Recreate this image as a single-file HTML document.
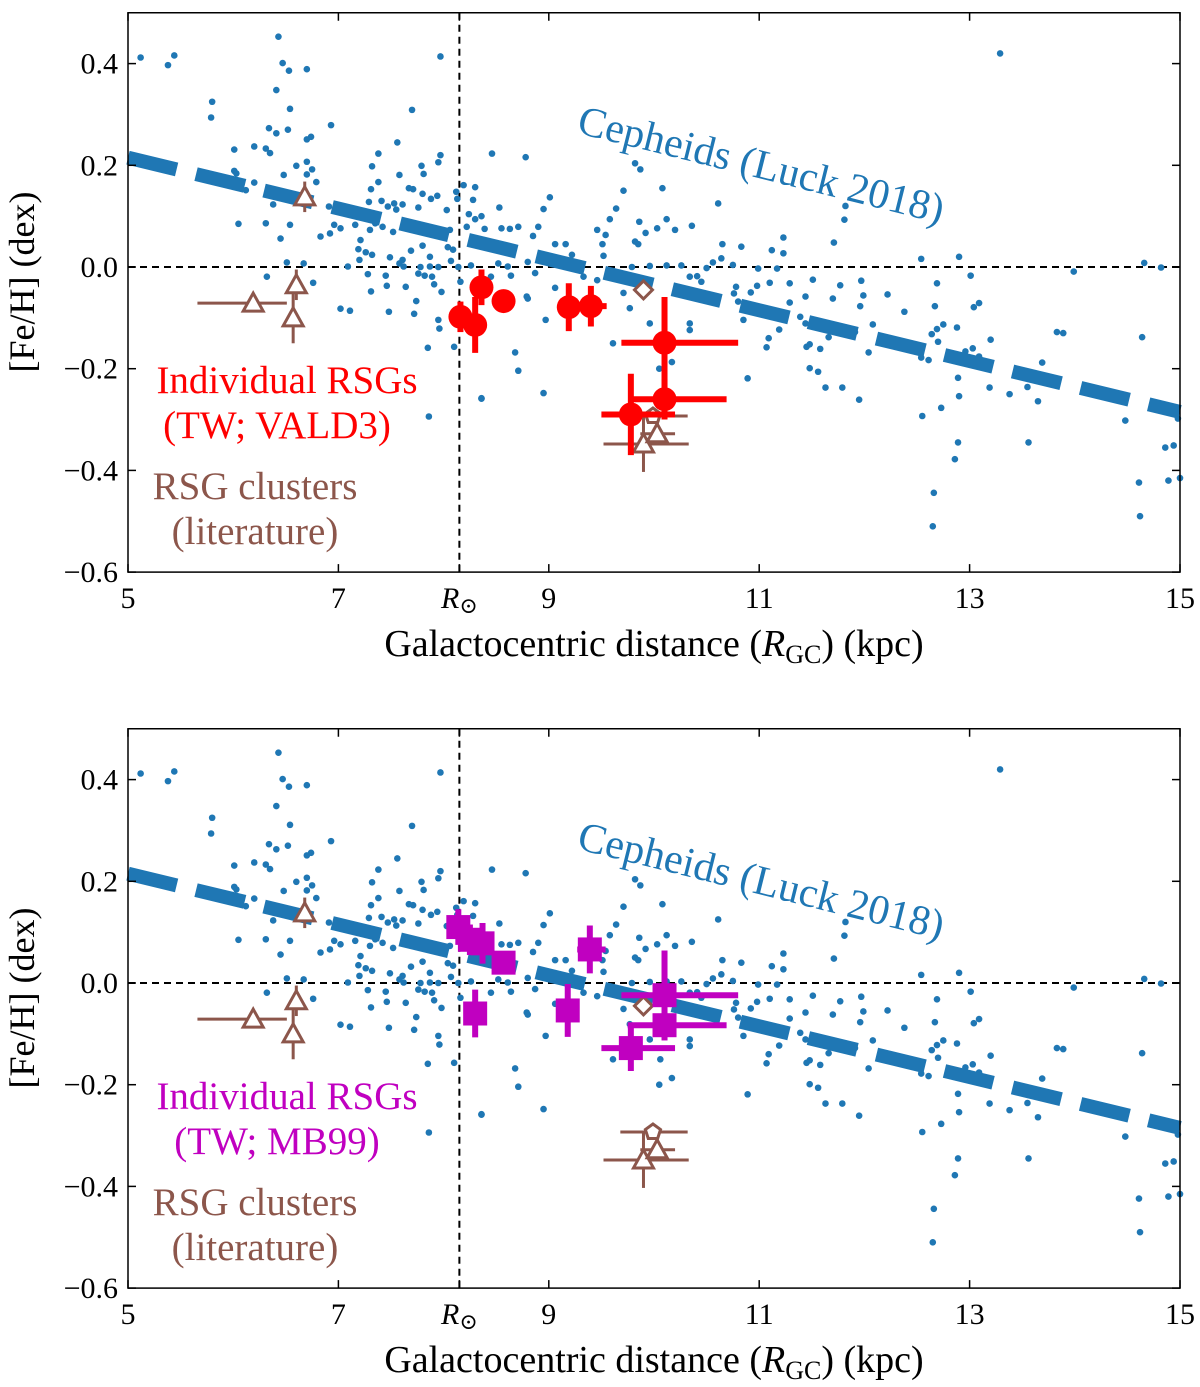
<!DOCTYPE html>
<html><head><meta charset="utf-8"><style>
html,body{margin:0;padding:0;background:#fff;}
svg{display:block;}
svg text{font-family:"Liberation Serif","DejaVu Serif",serif;}
</style></head><body>
<svg id="fig" width="1200" height="1387" viewBox="0 0 1200 1387" xmlns="http://www.w3.org/2000/svg" font-family="Liberation Serif, serif"></svg>
<script>
// ---- data ----
const cephX=[5.12,5.38,5.44,6.43,6.47,6.53,6.70,7.97,6.41,5.80,5.79,6.54,7.70,6.34,6.41,6.52,6.93,6.70,6.74,6.01,6.20,6.31,6.35,7.56,7.38,7.97,7.95,8.46,8.78,6.70,6.60,6.75,7.32,7.79,7.81,6.01,6.03,6.48,6.70,7.58,6.79,6.20,6.12,7.38,7.31,7.67,7.71,7.80,7.94,7.88,8.12,8.19,8.30,8.13,8.28,8.53,6.38,6.91,7.29,7.41,7.47,7.53,7.61,7.55,7.76,8.03,8.24,8.36,8.30,6.05,6.31,6.54,6.96,7.02,7.16,7.30,7.35,7.42,7.52,7.69,7.78,7.92,8.06,8.22,8.39,8.55,8.63,8.71,6.45,6.83,6.92,7.21,7.19,7.26,7.32,7.49,7.61,7.69,7.80,7.87,8.04,8.09,8.07,7.20,7.09,6.51,6.67,7.58,7.62,7.78,7.87,7.95,8.14,8.26,8.52,8.61,6.32,6.76,7.28,7.45,7.46,7.64,7.76,7.82,7.89,7.91,7.98,8.16,7.31,7.74,8.45,8.64,8.79,7.02,7.11,7.48,7.72,7.95,7.96,7.85,8.10,8.68,8.71,8.36,7.86,
9.01,8.95,8.90,8.85,9.06,9.16,9.22,8.80,8.87,9.06,8.80,8.97,9.33,9.46,9.46,9.54,9.51,9.52,9.58,9.64,9.71,9.82,9.87,10.08,9.86,9.92,10.03,10.12,10.20,10.36,10.61,9.82,9.85,9.71,9.77,9.61,9.96,10.05,10.17,9.79,9.96,10.12,10.26,10.34,10.41,10.45,10.50,10.56,10.65,10.64,10.75,10.78,10.76,10.80,10.83,10.85,10.92,10.98,10.99,11.10,11.12,11.17,11.23,11.19,11.09,11.07,11.29,11.39,11.44,11.45,11.48,11.56,10.89,10.34,10.34,10.06,8.95,8.36,
13.29,11.82,11.81,11.71,11.23,12.54,12.90,13.01,13.99,14.66,14.82,14.98,11.51,11.77,11.97,11.99,11.96,11.70,11.60,11.66,11.58,11.48,11.91,12.04,12.08,12.22,12.38,12.30,12.36,12.44,12.54,12.61,12.64,12.67,12.69,12.69,12.70,12.75,12.88,13.04,13.09,12.96,13.03,13.09,13.20,13.19,13.38,13.55,13.65,13.69,13.83,13.89,14.64,14.48,14.86,14.94,14.61,12.89,12.90,12.73,12.55,12.89,12.86,12.66,13.56,11.63,11.79,11.95,11.44,11.29,12.65,14.62,14.89,15.0];
const cephY=[0.412,0.397,0.416,0.453,0.401,0.386,0.389,0.414,0.348,0.325,0.294,0.311,0.309,0.273,0.263,0.270,0.279,0.251,0.256,0.231,0.237,0.233,0.224,0.245,0.223,0.220,0.206,0.223,0.216,0.207,0.199,0.192,0.198,0.199,0.183,0.189,0.184,0.181,0.182,0.181,0.167,0.166,0.151,0.167,0.153,0.155,0.153,0.144,0.140,0.134,0.148,0.161,0.157,0.134,0.132,0.117,0.123,0.119,0.128,0.130,0.119,0.125,0.123,0.113,0.117,0.112,0.104,0.100,0.094,0.085,0.086,0.083,0.083,0.076,0.083,0.073,0.086,0.079,0.069,0.083,0.074,0.069,0.073,0.079,0.075,0.076,0.075,0.079,0.056,0.060,0.066,0.053,0.035,0.029,0.024,0.019,0.014,0.032,0.042,0.020,0.039,0.034,0.012,0.014,0.001,0.009,0.007,0.007,0.001,0.0,0.001,0.0,0.0,0.003,0.007,0.001,-0.019,-0.031,-0.014,-0.017,-0.037,-0.039,-0.013,-0.017,-0.019,-0.034,-0.049,-0.029,-0.048,-0.067,-0.019,-0.017,-0.058,-0.082,-0.086,-0.088,-0.092,-0.104,-0.121,-0.159,-0.157,-0.168,-0.204,-0.259,-0.294,
0.137,0.114,0.079,0.061,0.045,0.045,0.024,0.010,-0.012,-0.041,-0.062,-0.104,-0.019,-0.026,0.073,0.063,0.045,0.022,0.094,0.115,0.150,0.204,0.192,0.155,0.089,0.067,0.076,0.094,0.073,0.081,0.125,0.050,0.045,-0.051,-0.081,-0.150,-0.111,-0.200,-0.187,0.0,0.002,0.003,0.003,-0.019,-0.018,-0.029,-0.002,0.009,0.045,0.017,0.004,-0.039,-0.052,-0.068,0.040,-0.104,-0.050,-0.037,-0.003,-0.031,0.033,-0.003,0.027,-0.123,-0.140,-0.158,-0.070,-0.098,-0.058,-0.157,-0.199,-0.206,-0.219,-0.111,-0.124,-0.150,-0.248,-0.258,
0.420,0.120,0.093,0.048,0.058,0.016,0.020,-0.017,-0.009,0.008,-0.001,-0.298,-0.025,-0.036,-0.027,-0.056,-0.077,-0.062,-0.109,-0.138,-0.161,-0.152,-0.128,-0.168,-0.113,-0.054,-0.088,-0.153,-0.148,-0.163,-0.178,-0.183,-0.132,-0.077,-0.032,-0.122,-0.147,-0.113,-0.119,-0.079,-0.071,-0.166,-0.160,-0.176,-0.143,-0.237,-0.250,-0.236,-0.264,-0.188,-0.128,-0.130,-0.138,-0.302,-0.355,-0.351,-0.424,-0.218,-0.254,-0.277,-0.293,-0.345,-0.378,-0.444,-0.345,-0.237,-0.237,-0.261,-0.111,-0.032,-0.510,-0.490,-0.420,-0.415];
const fitX=[5,15];
const fitY=[0.215,-0.285];
// individual RSGs, VALD3
const vX=[8.16,8.30,8.36,8.57,9.19,9.40,10.10,10.10,9.78];
const vY=[-0.098,-0.114,-0.040,-0.067,-0.079,-0.077,-0.149,-0.260,-0.290];
const vYerr=[0.03,0.055,0.035,0.02,0.047,0.04,0.09,0.04,0.08];
const vXlo=[0.05,0.05,0.03,0.03,0.03,0.12,0.41,0.32,0.28];
const vXhi=[0.05,0.05,0.03,0.03,0.03,0.15,0.70,0.59,0.42];
// individual RSGs, MB99
const mX=[8.14,8.25,8.37,8.57,8.30,9.18,9.39,10.10,10.10,9.78];
const mY=[0.110,0.085,0.078,0.040,-0.060,-0.054,0.066,-0.024,-0.083,-0.128];
const mYerr=[0.035,0.03,0.04,0.02,0.047,0.052,0.047,0.088,0.03,0.045];
const mXlo=[0.05,0.05,0.03,0.03,0.03,0.03,0.12,0.41,0.35,0.28];
const mXhi=[0.05,0.05,0.03,0.03,0.03,0.03,0.15,0.70,0.59,0.42];
// RSG clusters (literature)
const cX=[6.68,6.19,6.60,6.57,9.90,10.03];
const cY=[0.138,-0.071,-0.035,-0.100,-0.348,-0.328];
const cYerr=[0.03,0.0,0.03,0.05,0.055,0.02];
const cXlo=[0,0.53,0,0,0.38,0.16];
const cXhi=[0,0.32,0,0,0.43,0.17];
const pentX=[9.99], pentY=[-0.293], pentXlo=[0.31], pentXhi=[0.33];
const diaX=[9.90], diaY=[-0.045];
const xTicks=[5,7,8.15,9,11,13,15];
const xTickLabels=["5","7","R⊙","9","11","13","15"];
const yTicks=[0.4,0.2,0.0,-0.2,-0.4,-0.6];
const yTickLabels=["0.4","0.2","0.0","−0.2","−0.4","−0.6"];

const NS="http://www.w3.org/2000/svg";
const svg=document.getElementById('fig');
const L=128,R=1180;
const FF='"Liberation Serif", serif';
const xs=v=>L+(v-5)*(R-L)/10;
function mk(tag,attrs,parent){const e=document.createElementNS(NS,tag);for(const k in attrs)e.setAttribute(k,attrs[k]);if(tag==='text')e.setAttribute('font-family',FF);(parent||svg).appendChild(e);return e;}

function panel(off,kind){
  const y0=267+off;
  const ys=v=>y0-v*508.5;
  const top=ys(0.5), bot=ys(-0.6);
  const g=mk('g',{});
  
  
  const rl=mk('line',{x1:xs(8.15),x2:xs(8.15),y1:top,y2:bot,stroke:'#000','stroke-width':2,'stroke-dasharray':'7,5'},g);
  
  
  const zl=mk('line',{x1:L,x2:R,y1:ys(0),y2:ys(0),stroke:'#000','stroke-width':2,'stroke-dasharray':'7,5'},g);
  
  
  const sg=mk('g',{fill:'#1f77b4'},g);
  
  
  for(let i=0;i<cephX.length;i++){
    const c=mk('circle',{cx:xs(cephX[i]),cy:ys(cephY[i]),r:3.3},sg);
    
    
  }
  const fl=mk('line',{x1:xs(fitX[0]),y1:ys(fitY[0]),x2:xs(fitX[1]),y2:ys(fitY[1]),stroke:'#1f77b4','stroke-width':14,'stroke-dasharray':'50,20'},g);
  
  
  const br='#8c564b';
  const cg=mk('g',{stroke:br,fill:'none','stroke-width':3},g);
  
  
  for(let i=0;i<cX.length;i++){
    const x=xs(cX[i]),y=ys(cY[i]);
    if(cXlo[i]+cXhi[i]>0)mk('line',{x1:xs(cX[i]-cXlo[i]),x2:xs(cX[i]+cXhi[i]),y1:y,y2:y},cg);
    if(cYerr[i]>0)mk('line',{x1:x,x2:x,y1:ys(cY[i]+cYerr[i]),y2:ys(cY[i]-cYerr[i])},cg);
    const t=mk('polygon',{points:`${x},${y-10} ${x-10},${y+8} ${x+10},${y+8}`,fill:'#fff'},cg);
    
    
  }
  for(let i=0;i<pentX.length;i++){
    const x=xs(pentX[i]),y=ys(pentY[i]);
    mk('line',{x1:xs(pentX[i]-pentXlo[i]),x2:xs(pentX[i]+pentXhi[i]),y1:y,y2:y},cg);
    let p=[];for(let k=0;k<5;k++){const a=-Math.PI/2+k*2*Math.PI/5;p.push((x+8*Math.cos(a))+','+(y+8*Math.sin(a)));}
    const pe=mk('polygon',{points:p.join(' '),fill:'#fff'},cg);
    
    
  }
  for(let i=0;i<diaX.length;i++){
    const x=xs(diaX[i]),y=ys(diaY[i]);
    const d=mk('polygon',{points:`${x},${y-9} ${x+9},${y} ${x},${y+9} ${x-9},${y}`,fill:'#fff'},cg);
    
    
  }
  const col=kind==='v'?'#ff0000':'#c000c0';
  const X=kind==='v'?vX:mX,Y=kind==='v'?vY:mY,E=kind==='v'?vYerr:mYerr,XL=kind==='v'?vXlo:mXlo,XH=kind==='v'?vXhi:mXhi;
  const rg=mk('g',{stroke:col,fill:col,'stroke-width':6},g);
  
  
  for(let i=0;i<X.length;i++){
    const x=xs(X[i]),y=ys(Y[i]);
    mk('line',{x1:xs(X[i]-XL[i]),x2:xs(X[i]+XH[i]),y1:y,y2:y},rg);
    mk('line',{x1:x,x2:x,y1:ys(Y[i]+E[i]),y2:ys(Y[i]-E[i])},rg);
    let m;
    if(kind==='v')m=mk('circle',{cx:x,cy:y,r:12,stroke:'none'},rg);
    else m=mk('rect',{x:x-12,y:y-12,width:24,height:24,stroke:'none'},rg);
    
    
  }
  const fr=mk('rect',{x:L,y:top,width:R-L,height:bot-top,fill:'none',stroke:'#000','stroke-width':1.5},g);
  
  
  for(let i=0;i<xTicks.length;i++){
    const x=xs(xTicks[i]);
    mk('line',{x1:x,x2:x,y1:bot,y2:bot-8,stroke:'#000','stroke-width':1.5},g);
    mk('line',{x1:x,x2:x,y1:top,y2:top+8,stroke:'#000','stroke-width':1.5},g);
    const t=mk('text',{x:x,y:bot+36,'text-anchor':'middle','font-size':30},g);
    if(xTickLabels[i]==='R⊙'){
      t.innerHTML='<tspan font-style="italic">R</tspan><tspan font-size="22" dy="5">⊙</tspan>';
    } else t.textContent=xTickLabels[i];
    
    
  }
  for(let i=0;i<yTicks.length;i++){
    const y=ys(yTicks[i]);
    mk('line',{x1:L,x2:L+8,y1:y,y2:y,stroke:'#000','stroke-width':1.5},g);
    mk('line',{x1:R,x2:R-8,y1:y,y2:y,stroke:'#000','stroke-width':1.5},g);
    const t=mk('text',{x:L-10,y:y+10,'text-anchor':'end','font-size':30},g);
    t.textContent=yTickLabels[i];
    
    
  }
  const yt=mk('text',{x:0,y:0,'font-size':36,'text-anchor':'middle',transform:`translate(34,${off+282}) rotate(-90)`,'xml:space':'preserve'},g);
  yt.textContent='[Fe/H]  (dex)';
  
  
  const xt=mk('text',{x:654,y:bot+84,'font-size':38,'text-anchor':'middle','xml:space':'preserve'},g);
  xt.innerHTML='Galactocentric distance (<tspan font-style="italic">R</tspan><tspan font-size="26" dy="7">GC</tspan><tspan dy="-7">)  (kpc)</tspan>';
  
  
  const cl=mk('text',{x:0,y:0,'font-size':42,fill:'#1f77b4','text-anchor':'middle',transform:`translate(758,${off+178}) rotate(14)`},g);
  cl.textContent='Cepheids (Luck 2018)';
  
  
  const l1=mk('text',{x:287,y:off+393,'font-size':39,fill:col,'text-anchor':'middle'},g);
  l1.textContent='Individual RSGs';
  
  
  const l2=mk('text',{x:277,y:off+438,'font-size':39,fill:col,'text-anchor':'middle'},g);
  l2.textContent=kind==='v'?'(TW; VALD3)':'(TW; MB99)';
  
  
  const l3=mk('text',{x:255,y:off+499,'font-size':39,fill:br,'text-anchor':'middle'},g);
  l3.textContent='RSG clusters';
  
  
  const l4=mk('text',{x:255,y:off+544,'font-size':39,fill:br,'text-anchor':'middle'},g);
  l4.textContent='(literature)';
  
  
}
panel(0,'v');
panel(716,'m');
</script>
</body></html>
